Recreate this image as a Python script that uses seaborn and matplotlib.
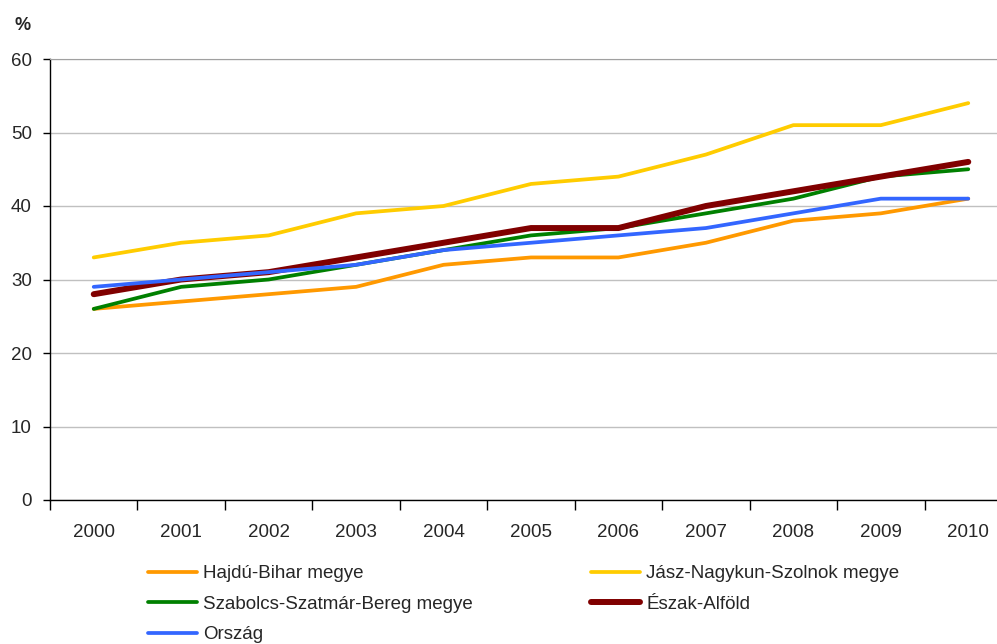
import matplotlib
matplotlib.use('Agg')
import matplotlib.pyplot as plt
import seaborn as sns
import numpy as np
import pandas as pd

# data
years = [2000, 2001, 2002, 2003, 2004, 2005, 2006, 2007, 2008, 2009, 2010]
hajdu = [26, 27, 28, 29, 32, 33, 33, 35, 38, 39, 41]
jasz = [33, 35, 36, 39, 40, 43, 44, 47, 51, 51, 54]
szabolcs = [26, 29, 30, 32, 34, 36, 37, 39, 41, 44, 45]
eszak = [28, 30, 31, 33, 35, 37, 37, 40, 42, 44, 46]
orszag = [29, 30, 31, 32, 34, 35, 36, 37, 39, 41, 41]

series_names = ['Hajdú-Bihar megye', 'Jász-Nagykun-Szolnok megye',
                'Szabolcs-Szatmár-Bereg megye', 'Észak-Alföld', 'Ország']
series_values = [hajdu, jasz, szabolcs, eszak, orszag]
colors = ['#FF9900', '#FFCC00', '#008000', '#800000', '#3366FF']
widths = [2.7, 2.7, 2.7, 4.3, 2.7]

df = pd.DataFrame({
    'Year': years * len(series_names),
    'Value': sum(series_values, []),
    'Series': [n for n in series_names for _ in years],
})

sns.set_style("white")
plt.rcParams['font.family'] = ['Liberation Sans', 'DejaVu Sans']

fig = plt.figure(figsize=(9.97, 6.44), dpi=100)
ax = fig.add_axes([50 / 997, 144 / 644, 962 / 997, 441 / 644])

handles = {}
for name, col, lw in zip(series_names, colors, widths):
    sns.lineplot(x='Year', y='Value', data=df[df['Series'] == name],
                 color=col, linewidth=lw, ax=ax, label=name,
                 solid_capstyle='round')
    handles[name] = ax.get_lines()[-1]

ax.set_xlim(1999.5, 2010.5)
ax.set_ylim(0, 60)
ax.set_yticks(range(0, 61, 10))
ax.set_xticks(years)
ax.set_xticks(np.arange(1999.5, 2011, 1), minor=True)
ax.set_xlabel('')
ax.set_ylabel('')
ax.grid(axis='y', color='#C0C0C0', linewidth=1)
ax.set_axisbelow(True)

for side in ['left', 'bottom']:
    ax.spines[side].set_color('black')
    ax.spines[side].set_linewidth(1)
ax.spines['top'].set_color('#A0A0A0')
ax.spines['right'].set_visible(False)

ax.tick_params(axis='x', which='major', length=0, pad=17, labelsize=13.5)
ax.tick_params(axis='x', which='minor', length=7, width=1, color='black',
               direction='out', bottom=True)
ax.tick_params(axis='y', length=5, width=1, color='black', direction='out',
               left=True, pad=8, labelsize=13.5)

fig.text(14 / 997, 1 - 25 / 644, '%', fontsize=13, fontweight='bold',
         va='center', ha='left')

ax.get_legend().remove()
order = ['Hajdú-Bihar megye', 'Szabolcs-Szatmár-Bereg megye', 'Ország',
         'Jász-Nagykun-Szolnok megye', 'Észak-Alföld']
fig.legend([handles[n] for n in order], order, ncol=2, frameon=False,
           loc='upper left', bbox_to_anchor=(148 / 997, 1 - 565 / 644),
           fontsize=13.5, handlelength=2.6, handletextpad=0.35,
           columnspacing=6.3, labelspacing=0.72, borderpad=0, borderaxespad=0)

fig.savefig('out.png', dpi=100)
